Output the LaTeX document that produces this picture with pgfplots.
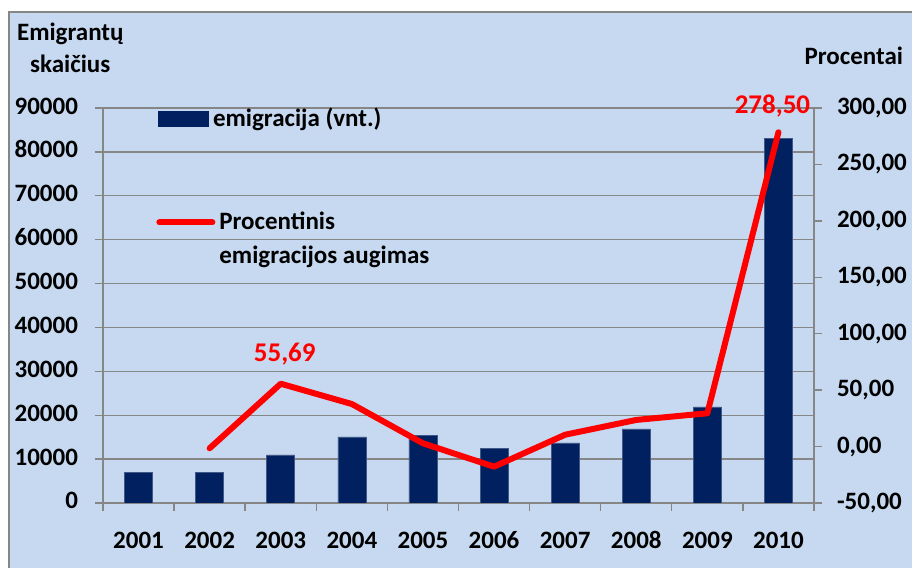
\documentclass[border=0pt]{standalone}
\usepackage{pgfplots}
\pgfplotsset{compat=1.18}
\usepackage{fontspec}
\setmainfont{Carlito}
\definecolor{chartbg}{RGB}{198,217,240}
\definecolor{barblue}{RGB}{0,32,96}
\definecolor{gridgray}{RGB}{134,134,134}

\tikzset{labelnode/.style={red, anchor=south, yshift=6pt,
    font=\fontsize{13.5}{16}\selectfont\bfseries}}

\pgfplotsset{
  common/.style={
    scale only axis, width=355.5pt, height=197.5pt,
    at={(0,0)}, anchor=south west,
    xmin=-0.5, xmax=9.5,
    /pgf/number format/assume math mode=true,
    tick label style={font=\fontsize{12.5}{15}\selectfont\bfseries},
    axis line style={gridgray, line width=0.7pt},
    tick style={gridgray, line width=0.7pt},
    tick align=outside,
    major tick length=4pt, minor tick length=4pt,
    legend style={draw=none, fill=none, inner sep=0pt,
      font=\fontsize{12.5}{15}\selectfont\bfseries,
      cells={anchor=west}},
  },
}

\begin{document}
\begin{tikzpicture}
% background of the chart area
\fill[white] (-51.5pt,-32.5pt) rectangle (404.5pt,251.5pt);
\useasboundingbox (-51.5pt,-32.5pt) rectangle (404.5pt,251.5pt);
\fill[chartbg] (-47pt,-32.5pt) rectangle (404.5pt,245.5pt);
\draw[gridgray, line width=0.8pt] (-47pt,-32.5pt) -- (-47pt,245.5pt) -- (404.5pt,245.5pt);

\begin{axis}[common,
  axis x line*=bottom, axis y line*=left,
  ymin=0, ymax=90000, ytick={0,10000,...,90000},
  scaled y ticks=false,
  yticklabel style={/pgf/number format/1000 sep={}, xshift=-5pt},
  xticklabel style={yshift=-4.5pt},
  typeset ticklabels with strut,
  ymajorgrids, grid style={gridgray, line width=0.7pt},
  xtick={0,...,9},
  xticklabels={2001,2002,2003,2004,2005,2006,2007,2008,2009,2010},
  major x tick style={draw=none},
  minor xtick={-0.5,0.5,...,9.5},
  every axis y label/.style={at={(axis description cs:-0.046,1.089)},
    anchor=south, align=center, inner sep=0pt,
    font=\fontsize{12.5}{16}\selectfont\bfseries},
  ylabel={Emigrantų\\skaičius},
  legend style={at={(0.0774,0.9734)}, anchor=west},
  ybar, bar width=14pt, bar shift=0pt,
]
\addplot[fill=barblue, draw=barblue!75!white, line width=0.3pt,
  legend image code/.code={\fill[barblue] (0pt,-3.75pt) rectangle (25pt,3.75pt);}]
  coordinates {(0,7000) (1,6950) (2,10950) (3,15050) (4,15400)
               (5,12450) (6,13700) (7,16900) (8,21900) (9,83000)};
\addlegendentry{emigracija (vnt.)}
\end{axis}

\begin{axis}[common,
  axis y line*=right, axis x line=none,
  ymin=-50, ymax=300, ytick={-50,0,...,300},
  yticklabel style={/pgf/number format/.cd, fixed, fixed zerofill, precision=2, use comma,
    /tikz/.cd, xshift=4pt},
  every axis y label/.style={at={(axis description cs:1.056,1.109)},
    anchor=base, inner sep=0pt,
    font=\fontsize{12.5}{15}\selectfont\bfseries},
  ylabel={Procentai},
  legend style={at={(0.0745,0.668)}, anchor=west, row sep=2.5pt},
]
\addplot[red, line width=3pt, line join=round, line cap=round,
  legend image code/.code={\draw[red, line width=3pt, line cap=round] (0pt,0pt) -- (26.5pt,0pt);}]
  coordinates {(1,-1.5) (2,55.69) (3,37.7) (4,2.9) (5,-17.8)
               (6,10.5) (7,23.6) (8,29.5) (9,278.50)};
\addlegendentry{Procentinis}
\addlegendimage{empty legend}
\addlegendentry{emigracijos augimas}
\addplot[draw=none, forget plot, point meta=y,
  nodes near coords={\pgfmathprintnumber[fixed,fixed zerofill,precision=2,use comma,assume math mode=true]{\pgfplotspointmeta}},
  every node near coord/.append style={labelnode, xshift=2pt}]
  coordinates {(2,55.69)};
\addplot[draw=none, forget plot, point meta=y,
  nodes near coords={\pgfmathprintnumber[fixed,fixed zerofill,precision=2,use comma,assume math mode=true]{\pgfplotspointmeta}},
  every node near coord/.append style={labelnode, xshift=-3pt, yshift=-2pt}]
  coordinates {(9,278.50)};
\end{axis}
\end{tikzpicture}
\end{document}
